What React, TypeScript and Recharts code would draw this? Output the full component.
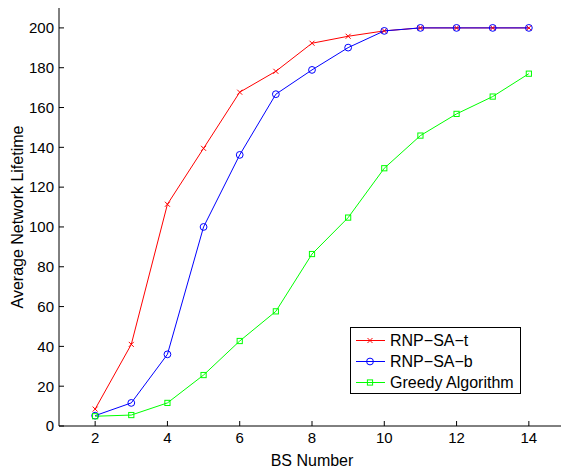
import { LineChart, Line, XAxis, YAxis, Legend, Label } from 'recharts';

const bsNumber = [2, 3, 4, 5, 6, 7, 8, 9, 10, 11, 12, 13, 14];
const rnpSaT = [8.5, 41, 111.4, 139.5, 167.7, 178.2, 192.3, 195.8, 198.5, 200, 200, 200, 200];
const rnpSaB = [5.2, 11.6, 36, 100, 136.2, 166.7, 178.9, 190.1, 198.5, 200, 200, 200, 200];
const greedy = [4.9, 5.5, 11.6, 25.6, 42.7, 57.6, 86.4, 104.7, 129.5, 145.9, 156.8, 165.5, 177];

const xTicks = [2, 4, 6, 8, 10, 12, 14];
const yTicks = [0, 20, 40, 60, 80, 100, 120, 140, 160, 180, 200];

const data = bsNumber.map((bs, i) => ({ bs, t: rnpSaT[i], b: rnpSaB[i], g: greedy[i] }));

const FONT = '"Liberation Sans", Arial, Helvetica, sans-serif';
const RED = '#ff0000';
const BLUE = '#0000ff';
const GREEN = '#00ff00';

type Mark = 'x' | 'o' | 's';

function Marker({ cx, cy, kind, color }: { cx: number; cy: number; kind: Mark; color: string }) {
  if (kind === 'x') {
    const d = 2.5;
    return (
      <g>
        <line x1={cx - d} y1={cy - d} x2={cx + d} y2={cy + d} stroke={color} strokeWidth={1} />
        <line x1={cx - d} y1={cy + d} x2={cx + d} y2={cy - d} stroke={color} strokeWidth={1} />
      </g>
    );
  }
  if (kind === 'o') {
    return <circle cx={cx} cy={cy} r={3.4} fill="none" stroke={color} strokeWidth={1} />;
  }
  return <rect x={cx - 2.6} y={cy - 2.6} width={5.2} height={5.2} fill="none" stroke={color} strokeWidth={1} />;
}

const markOf: Record<string, Mark> = { t: 'x', b: 'o', g: 's' };
// legend order as plotted
const legendOrder = ['t', 'b', 'g'];

function makeDot(kind: Mark, color: string, prefix: string) {
  return (p: any) => {
    if (p.cx == null || p.cy == null) return <g key={`${prefix}-${p.index}`} />;
    return (
      <g key={`${prefix}-${p.index}`}>
        <Marker cx={p.cx} cy={p.cy} kind={kind} color={color} />
      </g>
    );
  };
}

function LegendBox({ payload }: any) {
  const items = [...(payload || [])].sort(
    (a: any, b: any) => legendOrder.indexOf(a.dataKey) - legendOrder.indexOf(b.dataKey)
  );
  return (
    <div
      style={{
        width: 171,
        height: 67,
        boxSizing: 'border-box',
        border: '1px solid #000',
        background: '#fff',
        paddingTop: 2,
        fontFamily: FONT,
        fontSize: 16,
        color: '#000',
      }}
    >
      {items.map((entry: any) => (
        <div key={entry.dataKey} style={{ display: 'flex', alignItems: 'center', height: 21 }}>
          <svg width={34} height={21} style={{ display: 'block' }}>
            <line x1={5} y1={10.5} x2={34} y2={10.5} stroke={entry.color} strokeWidth={1} />
            <Marker cx={19} cy={10.5} kind={markOf[entry.dataKey]} color={entry.color} />
          </svg>
          <span style={{ marginLeft: 5, whiteSpace: 'nowrap' }}>{entry.value}</span>
        </div>
      ))}
    </div>
  );
}

export default function App() {
  return (
    <div
      style={{
        position: 'absolute',
        left: 0,
        top: 0,
        width: 561,
        height: 468,
        overflow: 'hidden',
        background: '#fff',
        fontFamily: FONT,
      }}
    >
      <LineChart width={580} height={468} data={data} margin={{ top: 8, right: 15, bottom: 0, left: 0 }}>
        <XAxis
          dataKey="bs"
          type="number"
          domain={[1, 15]}
          ticks={xTicks}
          allowDataOverflow
          height={42}
          stroke="#000"
          tickSize={-5}
          tickMargin={11}
          tick={{ fill: '#000', fontSize: 15, fontFamily: FONT }}
        >
          <Label value="BS Number" position="insideBottom" offset={2} fill="#000" fontSize={16} fontFamily={FONT} />
        </XAxis>
        <XAxis
          xAxisId="top"
          orientation="top"
          type="number"
          domain={[1, 15]}
          ticks={xTicks}
          height={0}
          stroke="#000"
          tickSize={-5}
          tickFormatter={() => ''}
        />
        <YAxis
          type="number"
          domain={[0, 210]}
          ticks={yTicks}
          allowDataOverflow
          width={59}
          stroke="#000"
          tickSize={-5}
          tickMargin={10}
          tick={{ fill: '#000', fontSize: 15, fontFamily: FONT }}
          label={{
            content: (props: any) => {
              const vb = props.viewBox || {};
              const cx = 23;
              const cy = (vb.y ?? 8) + (vb.height ?? 418) / 2;
              return (
                <text
                  x={cx}
                  y={cy}
                  transform={`rotate(-90, ${cx}, ${cy})`}
                  textAnchor="middle"
                  fill="#000"
                  fontSize={16}
                  fontFamily={FONT}
                >
                  Average Network Lifetime
                </text>
              );
            },
          }}
        />
        <YAxis
          yAxisId="right"
          orientation="right"
          type="number"
          domain={[0, 210]}
          ticks={yTicks}
          width={0}
          stroke="#000"
          tickSize={-5}
          tickFormatter={() => ''}
        />
        <Legend
          layout="vertical"
          align="center"
          verticalAlign="middle"
          wrapperStyle={{ left: 350, top: 327, width: 171, height: 67 }}
          content={<LegendBox />}
        />
        <Line
          dataKey="t"
          name="RNP−SA−t"
          stroke={RED}
          strokeWidth={1}
          type="linear"
          dot={makeDot('x', RED, 't')}
          activeDot={false}
          isAnimationActive={false}
        />
        <Line
          dataKey="b"
          name="RNP−SA−b"
          stroke={BLUE}
          strokeWidth={1}
          type="linear"
          dot={makeDot('o', BLUE, 'b')}
          activeDot={false}
          isAnimationActive={false}
        />
        <Line
          dataKey="g"
          name="Greedy Algorithm"
          stroke={GREEN}
          strokeWidth={1}
          type="linear"
          dot={makeDot('s', GREEN, 'g')}
          activeDot={false}
          isAnimationActive={false}
        />
      </LineChart>
    </div>
  );
}
